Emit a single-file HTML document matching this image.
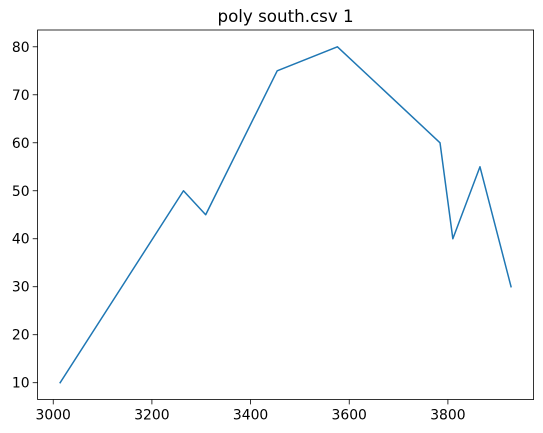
<!DOCTYPE html>
<html><head><meta charset="utf-8"><style>
html,body{margin:0;padding:0;background:#fff;}
svg{display:block;font-family:"DejaVu Sans","Liberation Sans",sans-serif;}
</style></head><body>
<svg id="chart" width="543" height="433" xmlns="http://www.w3.org/2000/svg"></svg>
<script>
const xValues = [3014, 3264, 3309, 3454, 3576, 3784, 3810, 3865, 3928];
const yValues = [10, 50, 45, 75, 80, 60, 40, 55, 30];
const xTicks = [3000, 3200, 3400, 3600, 3800];
const yTicks = [10, 20, 30, 40, 50, 60, 70, 80];
const titleText = "poly south.csv 1";

const L = 37.6, R = 533.6, T = 30, B = 399.5;
const xMin = 2968.3, xMax = 3973.7, yMin = 6.5, yMax = 83.5;
const sx = v => L + (v - xMin) / (xMax - xMin) * (R - L);
const sy = v => B - (v - yMin) / (yMax - yMin) * (B - T);
const NS = "http://www.w3.org/2000/svg";
const svg = document.getElementById('chart');
function mk(tag, attrs) {
  const e = document.createElementNS(NS, tag);
  for (const k in attrs) e.setAttribute(k, attrs[k]);
  svg.appendChild(e);
  return e;
}
// series line
const pts = xValues.map((x, i) => sx(x).toFixed(2) + ',' + sy(yValues[i]).toFixed(2)).join(' ');
const line = mk('polyline', {points: pts, fill: 'none', stroke: '#1f77b4', 'stroke-width': 1.5, 'stroke-linejoin': 'round', 'stroke-linecap': 'square'});


// axes frame
const frame = mk('rect', {x: L, y: T, width: R - L, height: B - T, fill: 'none', stroke: '#000', 'stroke-width': 0.8});


// x ticks
xTicks.forEach(v => {
  const x = sx(v);
  const t = mk('line', {x1: x, x2: x, y1: B, y2: B + 4.9, stroke: '#000', 'stroke-width': 0.8});
  
  
  const lb = mk('text', {x: x, y: B + 20, 'text-anchor': 'middle', 'font-size': '13.9px', fill: '#000'});
  lb.textContent = v;
  
  
});
// y ticks
yTicks.forEach(v => {
  const y = sy(v);
  const t = mk('line', {x1: L - 4.9, x2: L, y1: y, y2: y, stroke: '#000', 'stroke-width': 0.8});
  
  
  const lb = mk('text', {x: L - 8, y: y + 5, 'text-anchor': 'end', 'font-size': '13.9px', fill: '#000'});
  lb.textContent = v;
  
  
});
const title = mk('text', {x: (L + R) / 2, y: T - 8, 'text-anchor': 'middle', 'font-size': '16.7px', fill: '#000'});
title.textContent = titleText;


</script>
</body></html>
